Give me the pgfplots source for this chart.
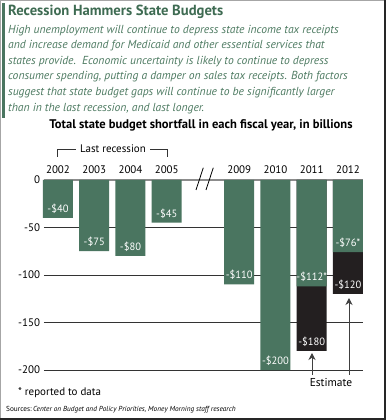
\documentclass[border=0pt]{standalone}
\usepackage{fontspec}
\setmainfont{PT Sans}
\usepackage{pgfplots}
\pgfplotsset{compat=1.18}
\usetikzlibrary{arrows.meta}
\definecolor{bargreen}{HTML}{4A7560}
\definecolor{titlegreen}{HTML}{3E6B52}
\definecolor{textgreen}{HTML}{4E7B62}
\definecolor{barblack}{HTML}{231F20}
\newcommand{\fs}[1]{\fontsize{#1}{#1}\selectfont}
\begin{document}
\begin{tikzpicture}[x=1bp,y=1bp]
\useasboundingbox (0,0) rectangle (386,420);
\fill[white] (0,0) rectangle (386,420);
\draw[black!35, line width=1.2bp] (0.6,0) -- (0.6,419.4) -- (386,419.4);
\draw[black!85, line width=2bp] (385,420) -- (385,1) -- (0,1);
\fill[bargreen] (2.5,302) rectangle (5.5,417);
\node[anchor=base west, text=titlegreen, font=\bfseries\fs{14.7}, inner sep=0] at (8,404) {Recession Hammers State Budgets};
\begin{scope}[every node/.style={anchor=base west, text=textgreen, font=\itshape\fs{11.65}, inner sep=0}]
\node at (8,387) {High unemployment will continue to depress state income tax receipts};
\node at (8,371.4) {and increase demand for Medicaid and other essential services that};
\node at (8,355.8) {states provide.\ \ Economic uncertainty is likely to continue to depress};
\node at (8,340.2) {consumer spending, putting a damper on sales tax receipts. Both factors};
\node at (8,324.6) {suggest that state budget gaps will continue to be significantly larger};
\node at (8,309) {than in the last recession, and last longer.};
\end{scope}
\node[anchor=base, font=\bfseries\fs{12.6}, inner sep=0] at (201,292) {Total state budget shortfall in each fiscal year, in billions};
\begin{axis}[at={(44bp,50bp)}, anchor=south west, scale only axis,
  width=319bp, height=190bp,
  xmin=-0.386, xmax=8.414, ymin=-200, ymax=0, clip=false,
  axis line style={draw=none}, tick style={draw=none},
  ytick={-200,-150,-100,-50}, yticklabels={-200,-150,-100,-50},
  extra y ticks={0}, extra y tick labels={0},
  extra y tick style={grid style={black!45, line width=1.6bp}},
  ymajorgrids, grid style={black!80, line width=0.8bp},
  yticklabel style={font=\fs{11}, xshift=-0.5bp},
  xtick={0,1,2,3,5,6,7,8},
  xticklabels={2002,2003,2004,2005,2009,2010,2011,2012},
  xticklabel pos=upper,
  xticklabel style={font=\fs{11}, yshift=2.5bp},
  nodes near coords, point meta=explicit symbolic,
  nodes near coords align={anchor=south},
  every node near coord/.append style={text=white, font=\fs{10.6}, inner xsep=0pt, yshift=1bp},
]
\addplot[ybar, bar width=30bp, bar shift=0pt, fill=barblack, draw=none]
  coordinates {(7,-180) [-\$180] (8,-120) [-\$120]};
\addplot[ybar, bar width=30bp, bar shift=0pt, fill=bargreen, draw=none]
  coordinates {(0,-40) [-\$40] (1,-75) [-\$75] (2,-80) [-\$80] (3,-45) [-\$45]
               (5,-110) [-\$110] (6,-200) [-\$200] (7,-112) [-\$112*] (8,-76) [-\$76*]};
\end{axis}
% Last recession bracket
\draw[black!80, line width=0.8bp] (57.5,263) -- (57.5,271) -- (76,271);
\draw[black!80, line width=0.8bp] (150,271) -- (167,271) -- (167,263);
\node[anchor=base, font=\fs{11}, inner sep=0] at (113,268) {Last recession};
% break marks
\draw[black, line width=0.8bp] (203.3,252.3) -- (196,230);
\draw[black, line width=0.8bp] (213.3,252.3) -- (206,230);
% estimate arrows
\draw[black!75, line width=0.9bp, -{Stealth[length=7bp,width=7bp]}] (312,45) -- (312,67);
\draw[black!75, line width=0.9bp, -{Stealth[length=7bp,width=7bp]}] (349,45) -- (349,122);
\node[anchor=base, font=\fs{11.5}, inner sep=0] at (331,34) {Estimate};
\node[anchor=base west, font=\fs{11}, inner sep=0] at (18,25) {* reported to data};
\node[anchor=base west, font=\fs{7.3}, inner sep=0] at (6,9) {Sources:\,\textit{Center on Budget and Policy Priorities, Money Morning staff research}};
\end{tikzpicture}
\end{document}
